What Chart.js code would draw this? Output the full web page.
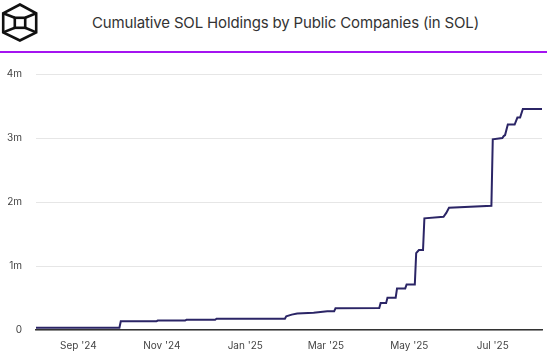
<!DOCTYPE html>
<html>
<head>
<meta charset="utf-8">
<script src="https://cdn.jsdelivr.net/npm/chart.js@4.4.1/dist/chart.umd.min.js"></script>
<style>
  html, body { margin: 0; padding: 0; background: #ffffff; }
  body { width: 547px; height: 356px; position: relative; overflow: hidden; font-family: Inter, "Open Sans", sans-serif; }
  #logo { position: absolute; left: 0; top: 0; }
  #title { position: absolute; left: 92px; top: 13px; font-size: 15px; color: #333333; white-space: nowrap; letter-spacing: -0.15px; }
  #rule { position: absolute; left: 0; top: 51px; width: 547px; height: 2px; background: #a414f0; }
  #c { position: absolute; left: 0; top: 0; }
</style>
</head>
<body>
<svg id="logo" width="40" height="45" viewBox="0 0 40 45">
  <g fill="none" stroke="#111111" stroke-width="2.6" stroke-linejoin="miter">
    <polygon points="19.9,4.5 36.2,13.3 36.2,32.4 19.9,40.5 3.2,32.4 3.2,13.3"/>
    <rect x="14.8" y="17.8" width="10.4" height="10"/>
    <line x1="3.2" y1="13.3" x2="14.8" y2="17.8"/>
    <line x1="36.2" y1="13.3" x2="25.2" y2="17.8"/>
    <line x1="3.2" y1="32.4" x2="14.8" y2="27.8"/>
    <line x1="36.2" y1="32.4" x2="25.2" y2="27.8"/>
  </g>
</svg>
<div id="title">Cumulative SOL Holdings by Public Companies (in SOL)</div>
<div id="rule"></div>
<canvas id="c" width="547" height="356"></canvas>
<script>
// ---- data ----
const dates = [
  "2024-08-01","2024-10-01","2024-10-02","2024-10-28","2024-10-29","2024-11-18","2024-11-19",
  "2024-12-10","2024-12-11","2025-01-30","2025-01-31","2025-02-04","2025-02-08","2025-02-20",
  "2025-03-02","2025-03-07","2025-03-08","2025-04-09","2025-04-10","2025-04-14","2025-04-15",
  "2025-04-21","2025-04-22","2025-04-28","2025-04-29","2025-05-05","2025-05-06","2025-05-08",
  "2025-05-11","2025-05-12","2025-05-26","2025-05-28","2025-05-30","2025-06-30","2025-07-01",
  "2025-07-08","2025-07-09","2025-07-10","2025-07-12","2025-07-17","2025-07-19","2025-07-21",
  "2025-07-23","2025-08-06"
];
const holdings = [
  35000, 35000, 135000, 135000, 148000, 148000, 160000,
  160000, 175000, 175000, 215000, 240000, 258000, 270000,
  292000, 292000, 340000, 342000, 420000, 420000, 505000,
  505000, 650000, 650000, 712000, 712000, 1200000, 1250000,
  1250000, 1745000, 1770000, 1830000, 1910000, 1940000, 2980000,
  3000000, 3030000, 3045000, 3210000, 3210000, 3320000, 3320000,
  3455000, 3455000
];
const tickDates = ["2024-09-01","2024-11-01","2025-01-01","2025-03-01","2025-05-01","2025-07-01"];
const tickLabels = ["Sep '24","Nov '24","Jan '25","Mar '25","May '25","Jul '25"];
const yTicks = [0, 1000000, 2000000, 3000000, 4000000];
const yTickLabels = ["0","1m","2m","3m","4m"];
const startDate = "2024-08-01";
const endDate = "2025-08-06";

// ---- helpers ----
function dayIndex(s) {
  const p = s.split("-").map(Number);
  return (Date.UTC(p[0], p[1] - 1, p[2]) - Date.UTC(2024, 7, 1)) / 864e5;
}
const points = dates.map((d, i) => ({ x: dayIndex(d), y: holdings[i] }));

Chart.defaults.font.family = "Inter, 'Open Sans', sans-serif";

new Chart(document.getElementById("c"), {
  type: "line",
  data: {
    datasets: [{
      data: points,
      borderColor: "#2b2566",
      borderWidth: 2,
      pointRadius: 0,
      tension: 0,
      fill: false
    }]
  },
  options: {
    responsive: false,
    animation: false,
    devicePixelRatio: 1,
    layout: { padding: { top: 74, right: 5, left: 0, bottom: 0 } },
    plugins: { legend: { display: false }, tooltip: { enabled: false }, title: { display: false } },
    scales: {
      x: {
        type: "linear",
        min: dayIndex(startDate),
        max: dayIndex(endDate),
        afterBuildTicks: (s) => { s.ticks = tickDates.map(d => ({ value: dayIndex(d) })); },
        afterFit: (s) => { s.height = 26; },
        grid: { display: false, drawTicks: false },
        border: { display: true, color: "#333333", width: 1.5 },
        ticks: {
          padding: 10,
          color: "#444444",
          font: { size: 10 },
          maxRotation: 0,
          autoSkip: false,
          callback: (v, i) => tickLabels[i]
        }
      },
      y: {
        min: 0,
        max: 4000000,
        afterBuildTicks: (s) => { s.ticks = yTicks.map(v => ({ value: v })); },
        afterFit: (s) => { s.width = 36; },
        grid: { color: "#e6e6e6", lineWidth: 1, drawTicks: false },
        border: { display: false },
        ticks: {
          padding: 14,
          color: "#444444",
          font: { size: 10 },
          callback: (v, i) => yTickLabels[i]
        }
      }
    }
  }
});
</script>
</body>
</html>
